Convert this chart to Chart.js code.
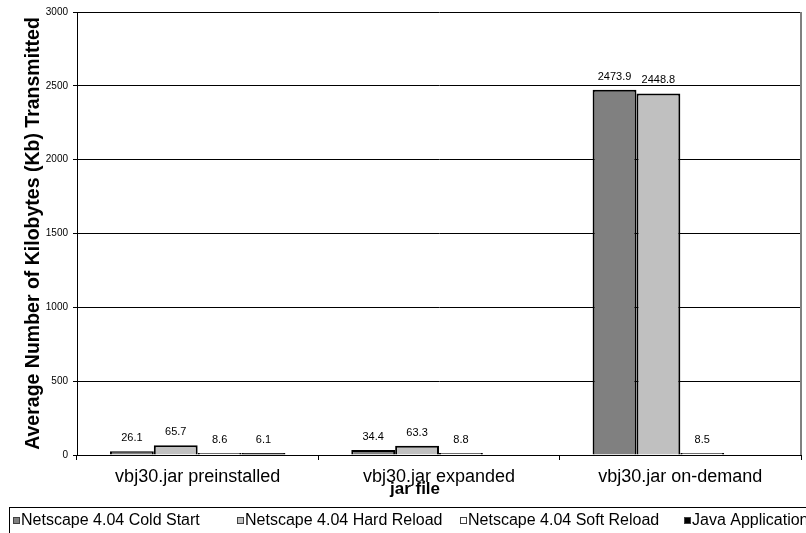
<!DOCTYPE html>
<html>
<head>
<meta charset="utf-8">
<script src="https://cdn.jsdelivr.net/npm/chart.js@4.4.1/dist/chart.umd.min.js"></script>
<style>
html,body{margin:0;padding:0;background:#fff;}
#wrap{position:relative;width:806px;height:533px;}
</style>
</head>
<body>
<div id="wrap"><canvas id="c" width="806" height="533"></canvas></div>
<script>
const categories = ["vbj30.jar preinstalled", "vbj30.jar expanded", "vbj30.jar on-demand"];
const seriesNames = ["Netscape 4.04 Cold Start", "Netscape 4.04 Hard Reload", "Netscape 4.04 Soft Reload", "Java Application"];
const coldStart = [26.1, 34.4, 2473.9];
const hardReload = [65.7, 63.3, 2448.8];
const softReload = [8.6, 8.8, 8.5];
const javaApp = [6.1, null, null];
const yTicks = [0, 500, 1000, 1500, 2000, 2500, 3000];
const xTitle = "jar file";
const yTitle = "Average Number of Kilobytes (Kb) Transmitted";
const seriesColors = ["#808080", "#c0c0c0", "#ffffff", "#000000"];

const FONT = "'Liberation Sans', Arial, sans-serif";
const seriesValues = [coldStart, hardReload, softReload, javaApp];

const valueLabels = {
  id: 'valueLabels',
  afterDatasetsDraw(chart) {
    const ctx = chart.ctx;
    ctx.save();
    ctx.font = "11px " + FONT;
    ctx.fillStyle = "#000";
    ctx.textAlign = "center";
    ctx.textBaseline = "middle";
    chart.data.datasets.forEach((ds, i) => {
      const meta = chart.getDatasetMeta(i);
      meta.data.forEach((bar, j) => {
        const v = ds.data[j];
        if (v === null || v === undefined) return;
        ctx.fillText(v.toFixed(1), bar.x, Math.min(bar.y, chart.scales.y.getPixelForValue(v)) - 13);
      });
    });
    ctx.restore();
  }
};

const frameAndLegend = {
  id: 'frameAndLegend',
  afterDraw(chart) {
    const ctx = chart.ctx;
    const a = chart.chartArea;
    ctx.save();
    // right border of plot area
    ctx.strokeStyle = "#808080";
    ctx.lineWidth = 2;
    ctx.beginPath();
    ctx.moveTo(a.right, a.top);
    ctx.lineTo(a.right, a.bottom);
    ctx.stroke();
    // x axis title
    ctx.fillStyle = "#000";
    ctx.font = "bold 17px " + FONT;
    ctx.textAlign = "center";
    ctx.textBaseline = "middle";
    ctx.fillText(xTitle, 415, 489);
    // legend box
    ctx.strokeStyle = "#000";
    ctx.lineWidth = 1;
    ctx.strokeRect(9.5, 507.5, 820, 60);
    // legend entries
    ctx.font = "16px " + FONT;
    ctx.textBaseline = "middle";
    ctx.textAlign = "left";
    const colW = 223.7;
    seriesNames.forEach((name, i) => {
      const x0 = Math.round(13 + i * colW);
      ctx.fillStyle = seriesColors[i];
      ctx.fillRect(x0, 517, 7, 7);
      ctx.strokeStyle = "#404040";
      ctx.strokeRect(x0 + 0.5, 517.5, 6, 6);
      ctx.fillStyle = "#000";
      ctx.fillText(name, x0 + 8, 521);
    });
    ctx.restore();
  }
};

new Chart(document.getElementById('c'), {
  type: 'bar',
  data: {
    labels: categories,
    datasets: seriesNames.map((n, i) => ({
      label: n,
      data: seriesValues[i],
      backgroundColor: seriesColors[i],
      borderColor: "#000",
      borderWidth: 2,
      minBarLength: 2,
      categoryPercentage: 0.727,
      barPercentage: 1.0
    }))
  },
  options: {
    responsive: false,
    animation: false,
    devicePixelRatio: 1,
    layout: { padding: { top: 12, right: 5, bottom: 31, left: 0 } },
    plugins: {
      legend: { display: false },
      tooltip: { enabled: false }
    },
    scales: {
      x: {
        grid: { display: true, drawOnChartArea: false, drawTicks: true, tickLength: 5, color: "#000", offset: true },
        border: { display: true, color: "#000", width: 1 },
        ticks: { color: "#000", font: { family: FONT, size: 18 }, padding: 6, maxRotation: 0, autoSkip: false },
        title: { display: false },
        afterFit(s) { s.height = 47; }
      },
      y: {
        min: 0, max: 3000,
        afterBuildTicks(s) { s.ticks = yTicks.map(v => ({ value: v })); },
        grid: { color: "#000", lineWidth: 1, drawTicks: true, tickLength: 4 },
        border: { display: true, color: "#000", width: 1 },
        ticks: { color: "#000", font: { family: FONT, size: 10 }, padding: 5, callback: (v) => String(v) },
        title: { display: true, text: yTitle, color: "#000", font: { family: FONT, size: 19.5, weight: 'bold' }, padding: { top: 22, bottom: 0 } },
        afterFit(s) { s.width = 77; }
      }
    }
  },
  plugins: [valueLabels, frameAndLegend]
});
</script>
</body>
</html>
